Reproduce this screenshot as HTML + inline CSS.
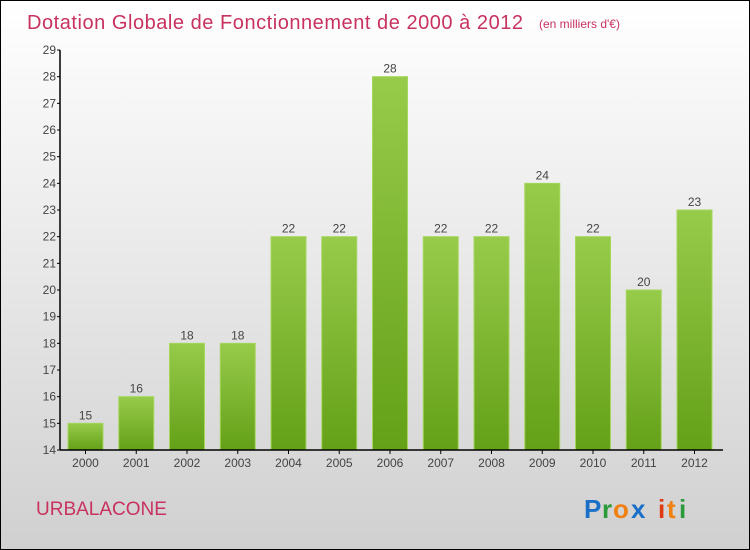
<!DOCTYPE html>
<html><head><meta charset="utf-8"><style>
body{margin:0;}
#wrap{position:relative;width:748px;height:548px;border:1px solid #000;background:linear-gradient(#ffffff,#d0d0d0);font-family:"Liberation Sans",sans-serif;overflow:hidden;}
</style></head><body>
<div id="wrap">
<svg id="chart" width="748" height="548">
<defs><linearGradient id="g" x1="0" y1="0" x2="0" y2="1"><stop offset="0" stop-color="#97cb4a"/><stop offset="1" stop-color="#64a018"/></linearGradient></defs>
<text x="26" y="28" font-size="20" textLength="496" fill="#c8325f">Dotation Globale de Fonctionnement de 2000 à 2012</text>
<text x="538" y="27" font-size="12" fill="#c8325f">(en milliers d'€)</text>
<text x="35" y="514" font-size="19" fill="#c8325f">URBALACONE</text>
<g font-size="26" font-weight="bold">
<text x="583" y="517" fill="#1a70c8">P</text><text x="601" y="517" fill="#2a9a3a">r</text><text x="612" y="517" fill="#f08010">o</text><text x="630" y="517" fill="#1a70c8">x</text><text x="657" y="517" fill="#e03a10">i</text><text x="666" y="517" fill="#f08010">t</text><text x="678" y="517" fill="#2a9a3a">i</text>
</g>
<g id="plot"></g>
</svg>
</div>
<script>
const categories=["2000","2001","2002","2003","2004","2005","2006","2007","2008","2009","2010","2011","2012"];
const values=[15,16,18,18,22,22,28,22,22,24,22,20,23];
const yTicks=[14,15,16,17,18,19,20,21,22,23,24,25,26,27,28,29];
const yMin=14,yMax=29,plotTop=49,plotBottom=449,x0=59;
const y=v=>plotBottom-(v-yMin)/(yMax-yMin)*(plotBottom-plotTop);
const xc=i=>84.5+i*50.75;
const NS="http://www.w3.org/2000/svg";
const g=document.getElementById('plot');
function mk(t,a){const e=document.createElementNS(NS,t);for(const k in a)e.setAttribute(k,a[k]);g.appendChild(e);return e;}
values.forEach((v,i)=>{
const r=mk('rect',{x:xc(i)-17.5,y:y(v),width:35,height:plotBottom-y(v),fill:'url(#g)',stroke:'#a6d65e','stroke-width':1});


const t=mk('text',{x:xc(i),y:y(v)-4,'text-anchor':'middle','font-size':12,fill:'#444'});t.textContent=v;


const c=mk('text',{x:xc(i),y:plotBottom+17,'text-anchor':'middle','font-size':12,fill:'#444'});c.textContent=categories[i];


const tk=mk('line',{x1:xc(i),x2:xc(i),y1:plotBottom,y2:plotBottom+4,stroke:'#000'});


});
yTicks.forEach(v=>{
const l=mk('line',{x1:x0-3,x2:x0,y1:y(v),y2:y(v),stroke:'#000'});


const t=mk('text',{x:x0-4,y:y(v)+4,'text-anchor':'end','font-size':12,fill:'#444'});t.textContent=v;


});
const ya=mk('line',{x1:x0,x2:x0,y1:plotTop,y2:plotBottom,stroke:'#000','stroke-width':1.5});


const xa=mk('line',{x1:x0,x2:722,y1:plotBottom,y2:plotBottom,stroke:'#000','stroke-width':1.5});


</script>
</body></html>
